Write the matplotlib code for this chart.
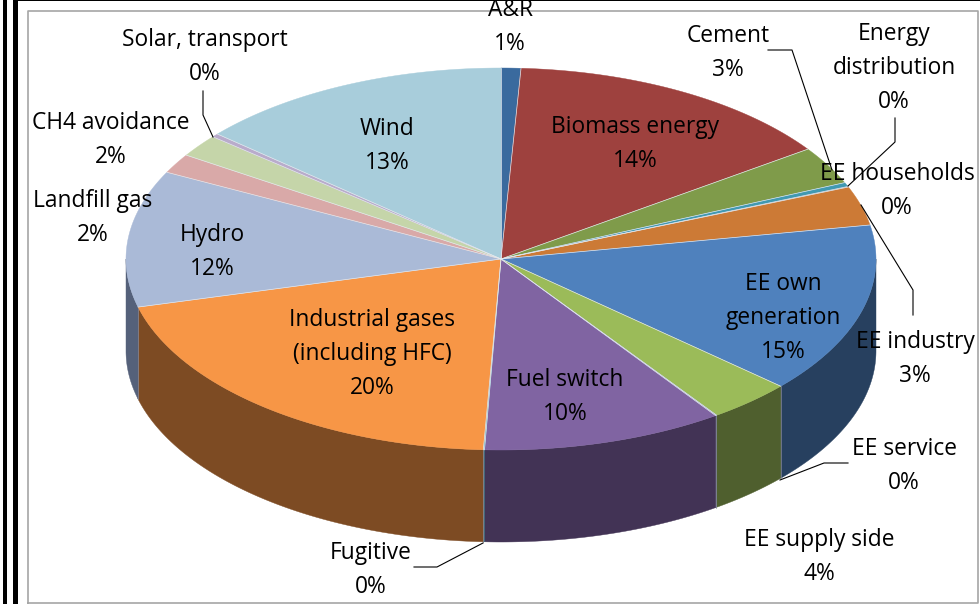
import numpy as np
import matplotlib
matplotlib.use('Agg')
import matplotlib.pyplot as plt

categories = ['A&R', 'Biomass energy', 'Cement', 'Energy\ndistribution', 'EE households',
              'EE industry', 'EE own\ngeneration', 'EE supply side', 'EE service', 'Fuel switch',
              'Fugitive', 'Industrial gases\n(including HFC)', 'Hydro', 'Landfill gas',
              'CH4 avoidance', 'Solar, transport', 'Wind']
shares = [0.85, 14.4, 3.2, 0.35, 0.05, 3.3, 14.45, 3.65, 0.05, 10.4, 0.05, 20.2, 11.55, 1.65, 1.9, 0.3, 13.65]
pct_labels = ['1%', '14%', '3%', '0%', '0%', '3%', '15%', '4%', '0%', '10%', '0%', '20%', '12%', '2%', '2%', '0%', '13%']

top_colors = ['#3A6A9E', '#9E413E', '#7F9B4A', '#4099B2', '#3F7FA8', '#CC7A36', '#4F81BD', '#9BBB59',
              '#7F9FC8', '#8064A2', '#4BACC6', '#F79646', '#AABAD7', '#D9A9A8', '#C5D5A9', '#B9ABCB', '#A8CDDB']
side_colors = ['#233F5E', '#5F2725', '#4C5D2C', '#26596B', '#264C65', '#7A4920', '#27405F', '#4F5F2E',
               '#4C5F78', '#423355', '#2D6777', '#7D4B23', '#55617A', '#826565', '#768065', '#6F667A', '#657B83']

# label centres in pixels, one per category
label_x = [510, 635, 728, 894, 897, 915, 783, 819, 904, 565, 371, 372, 212, 93, 111, 205, 387]
label_y = [27, 144, 53, 68, 191, 359, 318, 557, 466, 397, 570, 354, 252, 218, 140, 57, 146]

leaders = [[(203, 91), (203, 115), (213, 137)],
           [(768, 50), (792, 50), (832, 170)],
           [(895, 118), (895, 142), (848, 186)],
           [(861, 205), (913, 290), (913, 315)],
           [(848, 463), (824, 463), (780, 480)],
           [(414, 567), (437, 567), (483, 543)]]

cx, cy = 501, 259
rx, ry = 375, 191
depth = 92
line_gap = 33.5


def rim(t):
    return cx + rx * np.sin(t), cy - ry * np.cos(t)


fig = plt.figure(figsize=(9.8, 6.04), dpi=100)
ax = fig.add_axes([0, 0, 1, 1])
ax.set_xlim(0, 980)
ax.set_ylim(604, 0)
ax.axis('off')

edges = np.cumsum([0] + shares) / np.sum(shares) * 2 * np.pi

# side wall, only the front half of the rim shows
for i in range(len(shares)):
    a = max(edges[i], np.pi / 2)
    b = min(edges[i + 1], 3 * np.pi / 2)
    if b <= a:
        continue
    t = np.linspace(a, b, 80)
    x, y = rim(t)
    xs = np.concatenate([x, x[::-1]])
    ys = np.concatenate([y, y[::-1] + depth])
    ax.fill(xs, ys, facecolor=side_colors[i], edgecolor=side_colors[i], linewidth=0.3, zorder=2)
    if shares[i] > 1 and edges[i] > np.pi / 2:
        ax.plot([x[0], x[0]], [y[0], y[0] + depth], color='#8A8A9A', lw=0.5, zorder=2.5)

# top face
for i in range(len(shares)):
    t = np.linspace(edges[i], edges[i + 1], 80)
    x, y = rim(t)
    xs = np.concatenate([[cx], x])
    ys = np.concatenate([[cy], y])
    ax.fill(xs, ys, facecolor=top_colors[i], edgecolor=top_colors[i], linewidth=0.3, zorder=3)
    ax.plot([cx, x[0]], [cy, y[0]], color='#E4E8EE', lw=0.5, zorder=3.5)

for pts in leaders:
    ax.plot([p[0] for p in pts], [p[1] for p in pts], color='black', lw=0.8, zorder=4)

for i in range(len(categories)):
    lines = categories[i].split('\n') + [pct_labels[i]]
    start = label_y[i] - line_gap * (len(lines) - 1) / 2
    for j in range(len(lines)):
        ax.text(label_x[i], start + j * line_gap, lines[j], ha='center', va='center',
                fontsize=16.4, family='Open Sans', color='black', zorder=5)

# frame around the picture
ax.plot([27.5, 27.5, 978, 978, 27.5], [603, 10.5, 10.5, 603, 603], color='#A6A6A6', lw=1.2, zorder=1)
ax.fill_between([3.3, 6.7], 0, 604, color='black', lw=0, zorder=6)
ax.fill_between([13.3, 18.3], 0, 604, color='black', lw=0, zorder=6)
ax.fill_between([18, 980], 0, 1, color='black', lw=0, zorder=6)

fig.savefig('out.png', dpi=100)
